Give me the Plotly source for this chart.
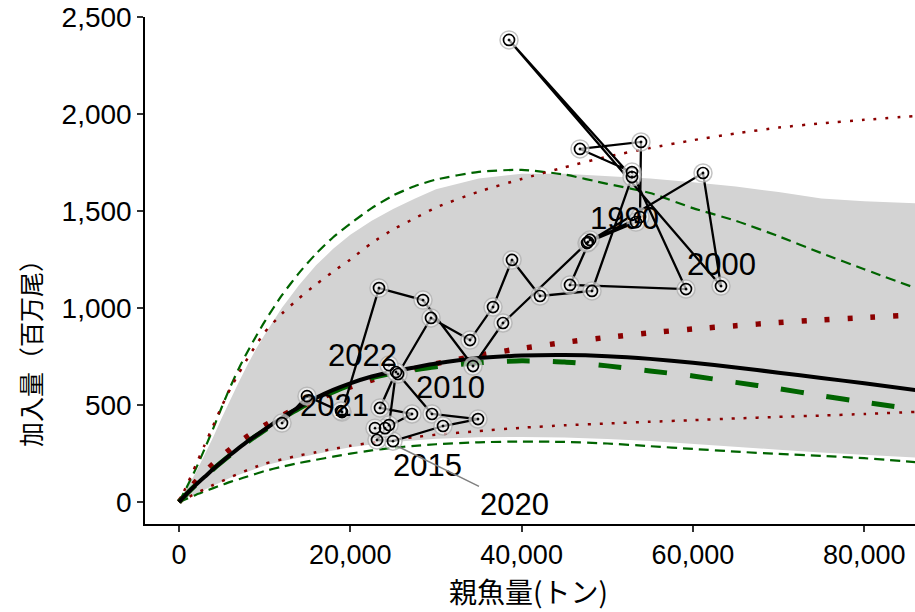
import plotly.graph_objects as go

# ---- observed stock-recruitment data (SSB in tonnes, recruits in millions) ----
years = list(range(1982, 2021))
ssb = [12025, 14944, 19030, 23350, 28487, 34325, 37827, 47634, 53822, 53939,
       46817, 52888, 59192, 45650, 47984, 53355, 47750, 61177, 63279, 38528,
       52888, 48218, 42147, 38878, 36660, 33974, 29421, 25568, 29538, 34908,
       30822, 24985, 23117, 24518, 25335, 23467, 27203, 24051, 22883]
rec = [407, 546, 464, 1103, 1041, 701, 923, 1335, 1469, 1856,
       1820, 1701, 1098, 1119, 1351, 1443, 1340, 1696, 1113, 2382,
       1675, 1088, 1062, 1248, 1005, 835, 949, 660, 454, 428,
       392, 314, 320, 397, 670, 485, 454, 381, 381]
recent_years = [2021, 2022]
recent_ssb = [18914, 24518]
recent_rec = [469, 706]

# ---- fitted curves ----
curve_x = [0, 1000, 2000, 3000, 4000, 5000, 6000, 7000, 8000, 9000, 10000,
           12000, 14000, 16000, 18000, 20000, 22500, 25000, 27500, 30000,
           35000, 40000, 45000, 50000, 55000, 60000, 65000, 70000, 75000, 80000, 86000]
ricker_med = [0, 47, 90, 130, 170, 208, 244, 279, 313, 344, 374,
              435, 489, 537, 578, 612, 647, 673, 694, 714,
              742, 755, 758, 752, 738, 718, 694, 667, 640, 612, 577]
ricker_up = [0, 75, 155, 245, 335, 435, 530, 620, 708, 790, 862,
             1000, 1118, 1220, 1305, 1378, 1450, 1510, 1563, 1612,
             1668, 1692, 1692, 1680, 1668, 1648, 1626, 1598, 1565, 1550, 1540]
ricker_lo = [0, 23, 45, 65, 85, 105, 125, 142, 158, 173, 188,
             210, 230, 248, 266, 282, 297, 310, 319, 326,
             334, 336, 333, 325, 315, 300, 285, 270, 256, 243, 230]
green_med = [0, 47, 90, 130, 170, 207, 243, 277, 310, 341, 370,
             430, 482, 528, 568, 603, 640, 664, 682, 697,
             718, 728, 722, 702, 676, 650, 617, 585, 548, 515, 477]
green_up = [0, 85, 175, 275, 380, 490, 595, 690, 775, 855, 930,
            1065, 1180, 1280, 1365, 1435, 1515, 1580, 1628, 1662,
            1702, 1712, 1688, 1640, 1593, 1515, 1450, 1370, 1283, 1200, 1103]
green_lo = [0, 19, 38, 55, 72, 88, 104, 118, 132, 146, 160,
            182, 201, 218, 234, 250, 266, 280, 290, 298,
            308, 312, 310, 302, 288, 274, 260, 248, 238, 226, 206]
red_med = [0, 56, 108, 154, 197, 237, 273, 307, 339, 368, 395,
           445, 489, 527, 562, 593, 629, 660, 687, 713,
           756, 792, 823, 849, 872, 892, 909, 925, 939, 951, 965]
red_up = [0, 95, 195, 295, 395, 495, 585, 665, 740, 810, 875,
          970, 1050, 1122, 1188, 1250, 1335, 1405, 1462, 1518,
          1600, 1665, 1725, 1780, 1825, 1865, 1900, 1930, 1952, 1970, 1990]
red_lo = [0, 23, 45, 67, 88, 108, 128, 147, 165, 182, 198,
          220, 240, 257, 274, 290, 306, 322, 335, 347,
          366, 383, 396, 405, 414, 422, 431, 439, 446, 454, 465]

label_years = ["1990", "2000", "2010", "2015", "2021", "2022"]
label_x = [52070, 63280, 31640, 29070, 18210, 21365]
label_y = [1464, 1222, 588, 191, 500, 758]

FONT = "Liberation Sans, Arial, Noto Sans CJK JP, sans-serif"
JFONT = "Noto Sans CJK JP, Liberation Sans, sans-serif"
DKGREEN = "#006400"
DKRED = "#8B0000"

fig = go.Figure()

# grey uncertainty ribbon
fig.add_trace(go.Scatter(x=curve_x + curve_x[::-1], y=ricker_up + ricker_lo[::-1],
                         fill="toself", fillcolor="#D3D3D3", line=dict(width=0),
                         mode="lines", hoverinfo="skip", showlegend=False))

def add_line(y, color, width, dash):
    fig.add_trace(go.Scatter(x=curve_x, y=y, mode="lines", line_shape="spline",
                             line=dict(color=color, width=width, dash=dash, smoothing=0.6),
                             hoverinfo="skip", showlegend=False))

add_line(green_up, DKGREEN, 2.2, "10px,6px")
add_line(green_lo, DKGREEN, 2.2, "10px,6px")
add_line(red_up, DKRED, 2.5, "3px,9px")
add_line(red_lo, DKRED, 2.5, "3px,9px")
add_line(red_med, DKRED, 5.5, "5px,18px")
add_line(green_med, DKGREEN, 5, "23px,23px")
add_line(ricker_med, "black", 4, "solid")

# observed trajectory
fig.add_trace(go.Scatter(x=ssb, y=rec, mode="lines", line=dict(color="black", width=2.3),
                         hoverinfo="skip", showlegend=False))
all_x = ssb + recent_ssb
all_y = rec + recent_rec
fig.add_trace(go.Scatter(x=all_x, y=all_y, mode="markers",
                         marker=dict(symbol="circle", size=18, color="rgba(255,255,255,0.6)",
                                     line=dict(color="rgba(170,170,170,0.7)", width=1.5)),
                         hoverinfo="skip", showlegend=False))
fig.add_trace(go.Scatter(x=all_x, y=all_y, mode="markers",
                         marker=dict(symbol="circle-open-dot", size=11, color="black",
                                     line=dict(color="black", width=1.7)),
                         hoverinfo="skip", showlegend=False))

for t, lx, ly in zip(label_years, label_x, label_y):
    fig.add_annotation(x=lx, y=ly, text=t, showarrow=False,
                       font=dict(family=FONT, size=31, color="black"))
fig.add_annotation(x=25452, y=289, ax=39228, ay=-10, axref="x", ayref="y",
                   text="2020", showarrow=True, arrowhead=0, arrowwidth=1.5,
                   arrowcolor="#808080", standoff=0,
                   font=dict(family=FONT, size=31, color="black"))

# axis titles
fig.add_annotation(xref="paper", yref="paper", x=(30 - 145) / 770, y=(524 - 347) / 507,
                   text="加入量（百万尾）", textangle=-90, showarrow=False,
                   xanchor="center", yanchor="middle",
                   font=dict(family=JFONT, size=25, color="black"))
fig.add_annotation(xref="paper", yref="paper", x=(528 - 145) / 770, y=(524 - 591) / 507,
                   text="親魚量(トン)", showarrow=False,
                   xanchor="center", yanchor="middle", borderpad=0,
                   font=dict(family=JFONT, size=28, color="black"))

fig.update_layout(
    width=915, height=612,
    margin=dict(l=145, r=0, t=17, b=88),
    plot_bgcolor="white", paper_bgcolor="white",
    showlegend=False,
    xaxis=dict(range=[-3970, 85930], showline=True, linecolor="black", linewidth=1.5,
               ticks="outside", ticklen=6, tickwidth=1.5, tickcolor="#333333",
               tickvals=[0, 20000, 40000, 60000, 80000], tickformat=",",
               showgrid=False, zeroline=False,
               tickfont=dict(family=FONT, size=27, color="black")),
    yaxis=dict(range=[-113, 2500], showline=True, linecolor="black", linewidth=1.5,
               ticks="outside", ticklen=6, tickwidth=1.5, tickcolor="#333333",
               tickvals=[0, 500, 1000, 1500, 2000, 2500], tickformat=",",
               showgrid=False, zeroline=False,
               tickfont=dict(family=FONT, size=28, color="black")),
)

fig.write_html("out.html")
